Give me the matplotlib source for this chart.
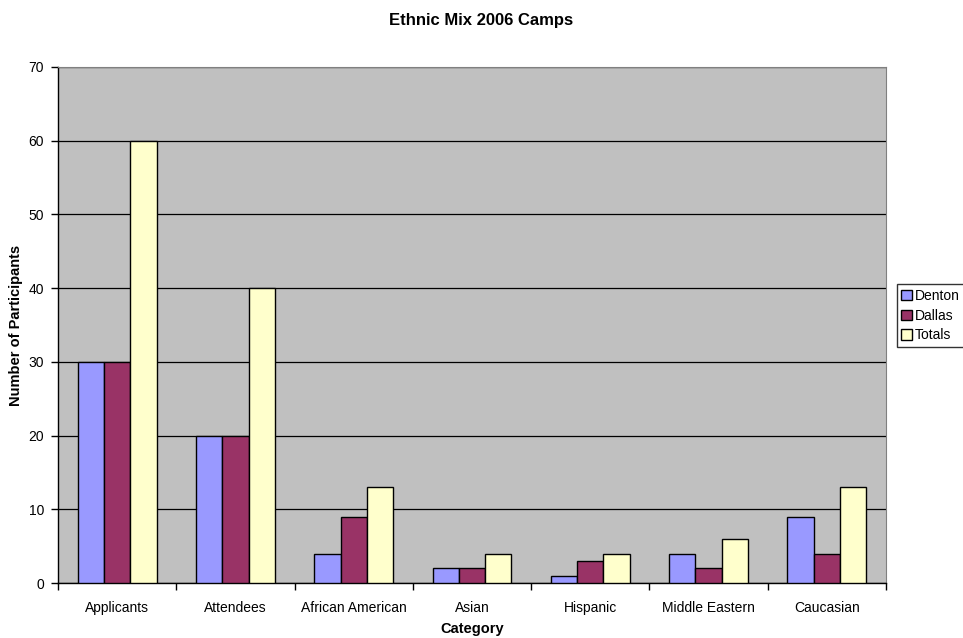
import matplotlib.pyplot as plt
import numpy as np

categories = ['Applicants', 'Attendees', 'African American', 'Asian',
              'Hispanic', 'Middle Eastern', 'Caucasian']
denton = [30, 20, 4, 2, 1, 4, 9]
dallas = [30, 20, 9, 2, 3, 2, 4]
totals = [60, 40, 13, 4, 4, 6, 13]
yticks = [0, 10, 20, 30, 40, 50, 60, 70]

series = [('Denton', denton, '#9999FF'),
          ('Dallas', dallas, '#993366'),
          ('Totals', totals, '#FFFFCC')]

plt.rcParams['font.family'] = ['Liberation Sans', 'DejaVu Sans']

fig = plt.figure(figsize=(9.63, 6.38), dpi=100)
ax = fig.add_axes([0.0602, 0.0862, 0.8598, 0.8088])
ax.set_facecolor('#C0C0C0')

x = np.arange(len(categories))
w = 0.222
for i, (name, vals, col) in enumerate(series):
    ax.bar(x + (i - 1) * w, vals, w, color=col, edgecolor='black',
           linewidth=1.0, label=name, zorder=3)

ax.set_xlim(-0.5, len(categories) - 0.5)
ax.set_ylim(0, 70)
ax.set_yticks(yticks)
ax.yaxis.grid(True, color='black', linewidth=0.9, zorder=1)
ax.set_axisbelow(True)
ax.set_xticks(x)
ax.set_xticklabels(categories, fontsize=10)
ax.tick_params(axis='x', length=0, pad=13)
ax.set_xticks(np.arange(len(categories) + 1) - 0.5, minor=True)
ax.tick_params(axis='x', which='minor', length=5, direction='out', width=1)
ax.tick_params(axis='y', labelsize=10, length=5, width=1, pad=5)
for s in ['top', 'right']:
    ax.spines[s].set_color('#808080')
    ax.spines[s].set_linewidth(0.8)
ax.spines['left'].set_linewidth(1.0)
ax.spines['bottom'].set_linewidth(1.0)

ax.set_xlabel('Category', fontsize=10.5, fontweight='bold', labelpad=5)
ax.set_ylabel('Number of Participants', fontsize=10.5, fontweight='bold', labelpad=4)
fig.suptitle('Ethnic Mix 2006 Camps', fontsize=12, fontweight='bold', y=0.98)

leg = fig.legend(loc='center left', bbox_to_anchor=(0.931, 0.505), fontsize=10,
                 frameon=True, fancybox=False, edgecolor='black',
                 handlelength=0.75, handleheight=0.75, handletextpad=0.2,
                 borderpad=0.35, labelspacing=0.4, borderaxespad=0)
leg.get_frame().set_linewidth(1.0)

fig.savefig('out.png', dpi=100)
